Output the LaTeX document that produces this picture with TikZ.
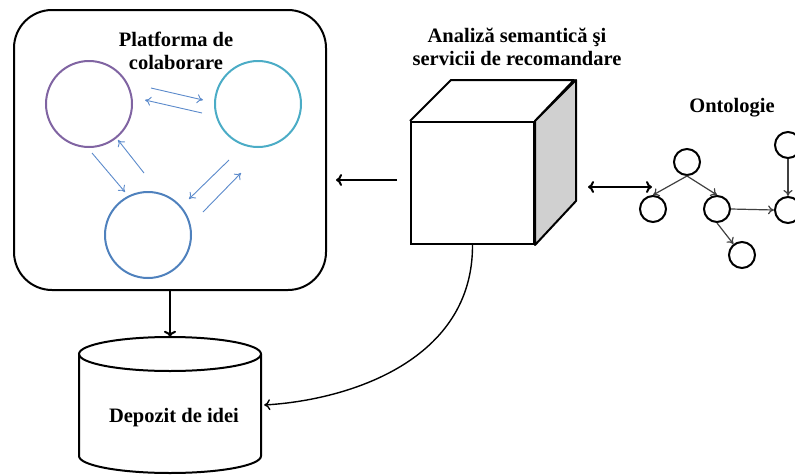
\documentclass[tikz,border=0pt]{standalone}
\usepackage{fontspec}
\setmainfont{Liberation Serif}
\usetikzlibrary{arrows.meta,calc}
\definecolor{cpurple}{HTML}{8064A2}
\definecolor{ccyan}{HTML}{4BACC6}
\definecolor{cblue}{HTML}{4F81BD}
\definecolor{cthin}{HTML}{5B8ACB}
\definecolor{cgray}{HTML}{D0D0D0}
\definecolor{cedge}{HTML}{404040}
\begin{document}
\begin{tikzpicture}[x=1pt,y=-1pt,
  lbl/.style={font=\fontsize{20.5}{23}\selectfont\bfseries, align=center, inner sep=0pt},
  blk/.style={line width=2pt, draw=black},
  blkarrow/.style={line width=2pt, -{To[length=6pt,width=12pt]}},
  pcircle/.style={circle, line width=2pt, minimum size=86pt, inner sep=0pt, draw},
  thinarrow/.style={cthin, line width=0.9pt, -{To[length=6pt,width=9pt]}},
  onode/.style={circle, line width=2pt, draw=black, minimum size=26pt, inner sep=0pt},
  oedge/.style={cedge, line width=1.2pt, -{To[length=6pt,width=9pt]}}
]
\useasboundingbox (0,0) rectangle (795,474);

% Platform box
\node[draw, line width=2pt, rounded corners=38pt, minimum width=312pt, minimum height=280pt, inner sep=0pt] (plat) at (170,150) {};
\node[lbl] (platlbl) at (176,51) {Platforma de\\colaborare};
\node[pcircle, draw=cpurple] (cp) at (89,104) {};
\node[pcircle, draw=ccyan] (cc) at (258,104) {};
\node[pcircle, draw=cblue] (cb) at (148,235) {};
\draw[thinarrow] (151,88) -- (203,100);
\draw[thinarrow] (202,113) -- (145,100);
\draw[thinarrow] (92,153) -- (125,192);
\draw[thinarrow] (144,173) -- (118,140);
\draw[thinarrow] (229,160) -- (189,199);
\draw[thinarrow] (203,212) -- (241,173);

% Cube
\node[draw, line width=2pt, minimum width=123pt, minimum height=122pt, inner sep=0pt] (cube) at (472.5,183) {};
\draw[blk, line join=round] (cube.north west) -- ++(41,-41) -- ++(123,0) -- (cube.north east);
\draw[blk, fill=cgray, line join=round] (cube.north east) -- ++(41,-41) -- ++(0,121) -- (cube.south east) -- cycle;
\node[lbl] (cubelbl) at (517,47) {Analiză semantică şi\\servicii de recomandare};

% Cylinder
\node[minimum width=182pt, minimum height=136pt, inner sep=0pt] (cyl) at (170,405) {};
\draw[blk] (170,354) ellipse [x radius=91, y radius=17];
\draw[blk] (79,354) -- (79,456) arc[start angle=180, end angle=0, x radius=91, y radius=17] -- (261,354);
\node[lbl] (cyllbl) at (174,418) {Depozit de idei};

% Ontology
\node[lbl] (ontlbl) at (732,108) {Ontologie};
\node[onode] (otop) at (687,162) {};
\node[onode] (oleft) at (653,209) {};
\node[onode] (omid) at (717,209) {};
\node[onode] (obot) at (742,255) {};
\node[onode] (oright) at (788,210) {};
\node[onode] (otr) at (788,145) {};
\draw[oedge] (otop.south) -- (oleft.north);
\draw[oedge] (otop.south) -- (omid.north);
\draw[oedge] (omid.east) -- (oright.west);
\draw[oedge] (omid.south) -- (obot);
\draw[oedge] (otr.south) -- (oright.north);

% Connectors
\draw[blkarrow] ([xshift=-13pt,yshift=3pt]cube.west) -- ([xshift=9pt,yshift=-30pt]plat.east);
\coordinate (dl) at (588,187);
\coordinate (dr) at (652,187);
\draw[line width=2pt, {To[length=6pt,width=12pt]}-{To[length=6pt,width=12pt]}] (dl) -- (dr);
\draw[blkarrow] (plat.south) -- (cyl.north);
\draw[line width=1.4pt, -{To[length=6pt,width=11pt]}] (cube.south) .. controls (473,360) and (350,400) .. ([xshift=3pt]cyl.east);
\end{tikzpicture}
\end{document}
